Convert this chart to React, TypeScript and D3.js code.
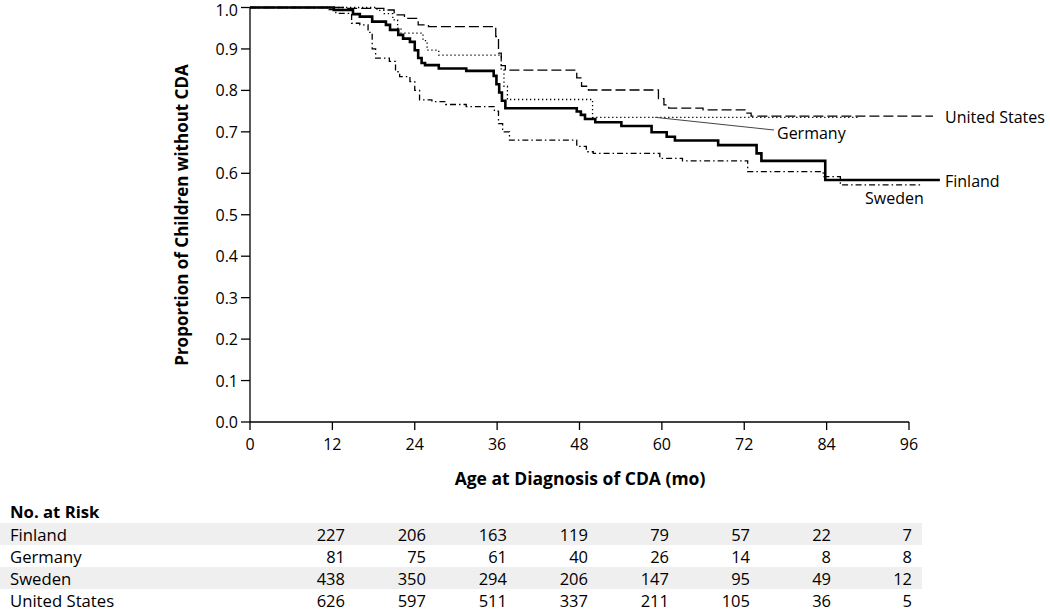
import React from "react";
import * as d3 from "d3";

const finlandT = [0, 12.2, 15.0, 16.0, 17.8, 19.8, 20.4, 21.6, 22.3, 23.3, 24.0, 24.5, 25.0, 25.5, 27.5, 31.5, 35.5, 35.9, 36.3, 36.7, 37.2, 47.6, 48.2, 48.8, 50.3, 54.1, 58.5, 60.7, 61.9, 68.2, 73.8, 74.5, 83.8, 100.5];
const finlandS = [1.0, 0.994, 0.984, 0.978, 0.966, 0.958, 0.946, 0.934, 0.925, 0.917, 0.897, 0.878, 0.866, 0.861, 0.853, 0.847, 0.835, 0.815, 0.795, 0.775, 0.757, 0.749, 0.741, 0.731, 0.723, 0.714, 0.699, 0.688, 0.679, 0.668, 0.648, 0.630, 0.584, 0.584];

const germanyT = [0, 18.5, 19.5, 20.8, 21.5, 22.0, 25.2, 25.8, 27.5, 36.6, 37.0, 37.5, 49.9, 88.5];
const germanyS = [1.0, 0.993, 0.985, 0.97, 0.95, 0.938, 0.92, 0.897, 0.885, 0.85, 0.81, 0.778, 0.735, 0.735];

const swedenT = [0, 11.5, 12.5, 14.8, 16.0, 17.2, 17.8, 18.3, 20.3, 21.2, 21.8, 23.3, 24.0, 24.7, 26.5, 28.5, 31.5, 35.6, 36.2, 36.8, 37.8, 47.6, 49.0, 50.0, 59.7, 63.0, 72.5, 83.5, 86.0, 98.0];
const swedenS = [1.0, 0.995, 0.986, 0.962, 0.958, 0.94, 0.9, 0.878, 0.87, 0.845, 0.833, 0.821, 0.8, 0.777, 0.773, 0.766, 0.761, 0.75, 0.72, 0.70, 0.68, 0.665, 0.652, 0.648, 0.636, 0.630, 0.604, 0.592, 0.572, 0.572];

const usT = [0, 14.0, 19.5, 21.0, 22.5, 24.5, 26.0, 35.8, 36.2, 36.6, 37.2, 47.6, 48.3, 49.3, 59.5, 60.3, 61.0, 66.0, 72.1, 73.0, 99.5];
const usS = [1.0, 0.998, 0.994, 0.982, 0.974, 0.958, 0.954, 0.93, 0.89, 0.86, 0.849, 0.83, 0.81, 0.801, 0.78, 0.765, 0.757, 0.753, 0.745, 0.738, 0.738];

const xTicks = [0, 12, 24, 36, 48, 60, 72, 84, 96];
const yTicks = [0, 0.1, 0.2, 0.3, 0.4, 0.5, 0.6, 0.7, 0.8, 0.9, 1.0];

const riskCountries = ["Finland", "Germany", "Sweden", "United States"];
const riskTimes = [0, 12, 24, 36, 48, 60, 72, 84];
const riskFinland = [227, 206, 163, 119, 79, 57, 22, 7];
const riskGermany = [81, 75, 61, 40, 26, 14, 8, 8];
const riskSweden = [438, 350, 294, 206, 147, 95, 49, 12];
const riskUS = [626, 597, 511, 337, 211, 105, 36, 5];

const FONT = "'Open Sans', 'DejaVu Sans', sans-serif";

export default function App() {
  const x = d3.scaleLinear().domain([0, 96]).range([250, 909]);
  const y = d3.scaleLinear().domain([0, 1]).range([422, 7.5]);
  const riskX = d3.scaleLinear().domain([0, 84]).range([345, 912]);
  const rowY = d3.scaleBand().domain(riskCountries).range([523, 611]).paddingInner(0);

  const line = d3
    .line<[number, number]>()
    .x((d) => x(d[0]))
    .y((d) => y(d[1]))
    .curve(d3.curveStepAfter);

  const mk = (t: number[], s: number[]) => t.map((v, i) => [v, s[i]] as [number, number]);

  const series = [
    { name: "United States", d: mk(usT, usS), w: 1.3, dash: "10,4" },
    { name: "Germany", d: mk(germanyT, germanyS), w: 1.3, dash: "1.3,2.7" },
    { name: "Sweden", d: mk(swedenT, swedenS), w: 1.3, dash: "6,3,1.5,3" },
    { name: "Finland", d: mk(finlandT, finlandS), w: 2.6, dash: "none" },
  ];

  const riskRows = [riskFinland, riskGermany, riskSweden, riskUS];

  return (
    <svg
      width={1050}
      height={611}
      style={{ position: "absolute", left: 0, top: 0, background: "#fff" }}
      fontFamily={FONT}
    >
      <rect x={0} y={0} width={1050} height={611} fill="#fff" />
      {series.map((s) => (
        <path
          key={s.name}
          d={line(s.d) || ""}
          fill="none"
          stroke="#000"
          strokeWidth={s.w}
          strokeDasharray={s.dash}
        />
      ))}
      <line x1={x(0)} x2={x(96)} y1={y(0)} y2={y(0)} stroke="#000" strokeWidth={1.3} />
      <line x1={x(0)} x2={x(0)} y1={y(0)} y2={y(1)} stroke="#000" strokeWidth={1.3} />
      {xTicks.map((t) => (
        <g key={"x" + t}>
          <line x1={x(t)} x2={x(t)} y1={y(0)} y2={y(0) + 8} stroke="#000" strokeWidth={1.3} />
          <text x={x(t)} y={y(0) + 22} textAnchor="middle" dominantBaseline="central" fontSize={16}>
            {t}
          </text>
        </g>
      ))}
      {yTicks.map((t) => (
        <g key={"y" + t}>
          <line x1={x(0) - 9} x2={x(0)} y1={y(t)} y2={y(t)} stroke="#000" strokeWidth={1.3} />
          <text x={x(0) - 12} y={y(t) + (t === 1 ? 2.5 : 0)} textAnchor="end" dominantBaseline="central" fontSize={16}>
            {t.toFixed(1)}
          </text>
        </g>
      ))}
      <text x={580} y={478} textAnchor="middle" dominantBaseline="central" fontSize={17.5} fontWeight="bold">
        Age at Diagnosis of CDA (mo)
      </text>
      <text
        transform="translate(181,215) rotate(-90)"
        textAnchor="middle"
        dominantBaseline="central"
        fontSize={17}
        fontWeight="bold"
      >
        Proportion of Children without CDA
      </text>
      <text x={945} y={117} dominantBaseline="central" fontSize={16}>United States</text>
      <text x={945} y={181} dominantBaseline="central" fontSize={16}>Finland</text>
      <text x={865} y={198} dominantBaseline="central" fontSize={16}>Sweden</text>
      <line x1={x(59)} y1={y(0.735)} x2={774} y2={130} stroke="#444" strokeWidth={1} />
      <text x={777} y={133} dominantBaseline="central" fontSize={16}>Germany</text>
      <text x={10} y={511} dominantBaseline="central" fontSize={16.7} fontWeight="bold">No. at Risk</text>
      {riskCountries.map((c, i) => (
        <g key={c}>
          {i % 2 === 0 && (
            <rect x={0} y={rowY(c)!} width={922} height={rowY.bandwidth()} fill="#efefef" />
          )}
          <text x={10} y={rowY(c)! + rowY.bandwidth() / 2} dominantBaseline="central" fontSize={16.7}>
            {c}
          </text>
          {riskTimes.map((t, j) => (
            <text
              key={t}
              x={riskX(t)}
              y={rowY(c)! + rowY.bandwidth() / 2}
              textAnchor="end"
              dominantBaseline="central"
              fontSize={16.5}
            >
              {riskRows[i][j]}
            </text>
          ))}
        </g>
      ))}
    </svg>
  );
}
